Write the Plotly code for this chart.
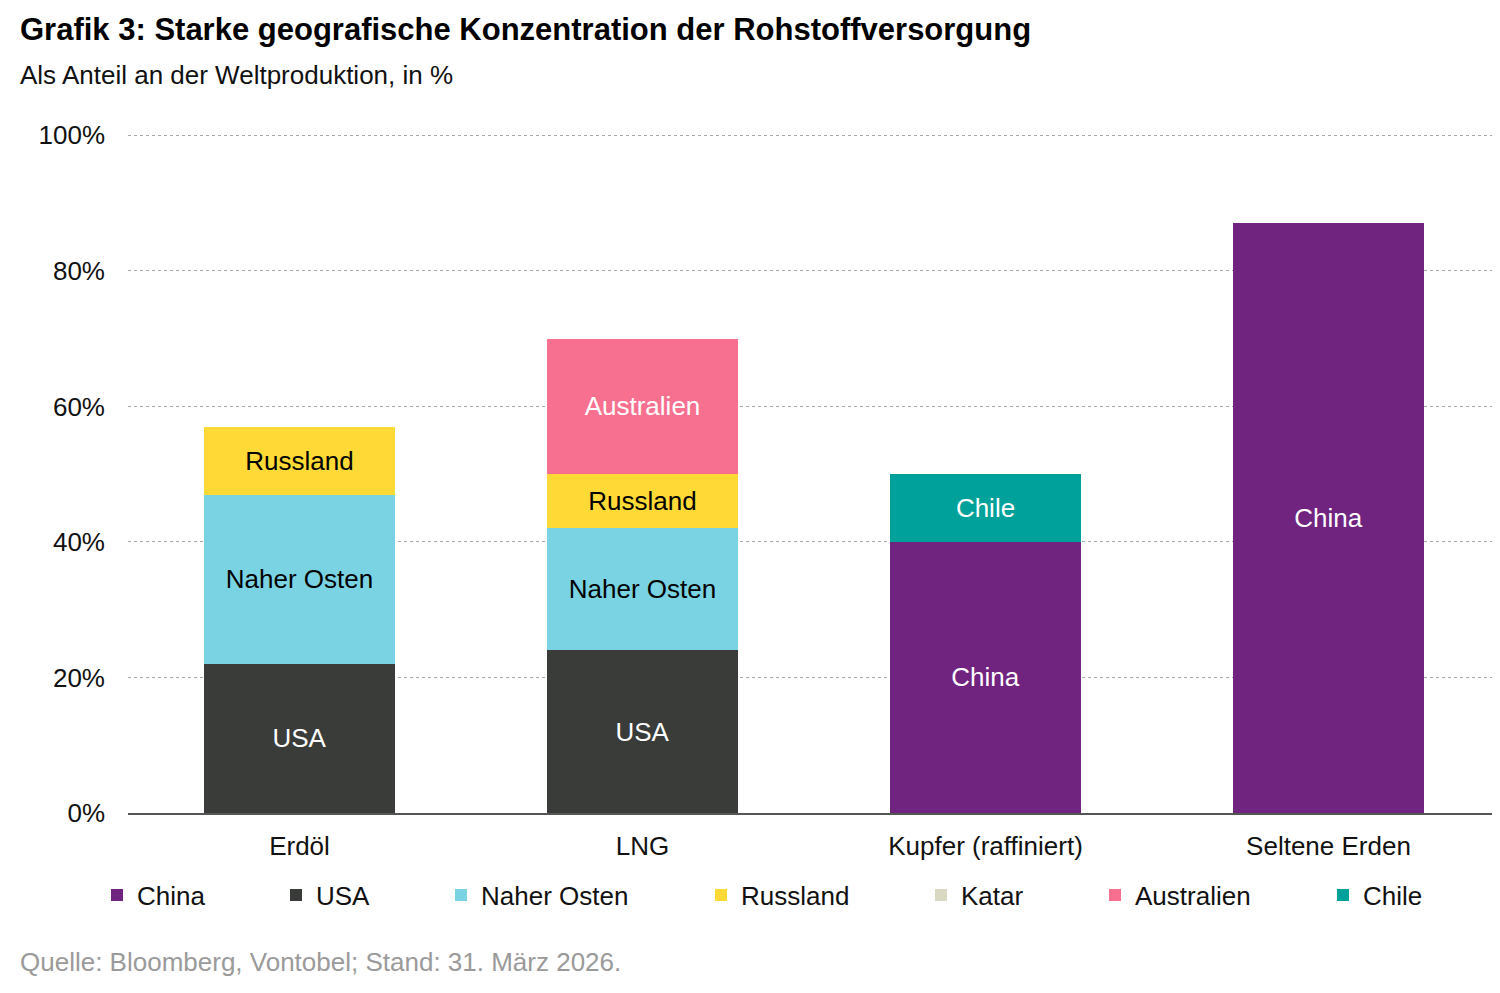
import plotly.graph_objects as go

# Rohstoffe und Anteile an der Weltproduktion (in %)
categories = ["Erdöl", "LNG", "Kupfer (raffiniert)", "Seltene Erden"]
countries = ["China", "USA", "Naher Osten", "Russland", "Katar", "Australien", "Chile"]
china = [None, None, 40, 87]
usa = [22, 24, None, None]
naher_osten = [25, 18, None, None]
russland = [10, 8, None, None]
katar = [None, None, None, None]
australien = [None, 20, None, None]
chile = [None, None, 10, None]
y_ticks = [0, 20, 40, 60, 80, 100]
y_ticktext = ["0%", "20%", "40%", "60%", "80%", "100%"]

colors = ["#70237f", "#3a3c3a", "#7ad3e3", "#ffda36", "#d9d8c2", "#f7708f", "#00a19a"]
text_colors = ["white", "white", "black", "black", "black", "white", "white"]
series = [china, usa, naher_osten, russland, katar, australien, chile]

# page has an 8px body margin, so screen px = figure px + 8
OFF = 8
legend_marker_px = [113, 292, 457, 717, 937, 1111, 1339]

FONT = "Liberation Sans, Arial, sans-serif"
W, H = 1492, 985
L, R, T, B = 120, 0, 126, 180
pw = W - L - R
ph = H - T - B
bottom = H - B


def px_x(sx):
    return (sx - OFF - L) / pw


def px_y(sy):
    return (bottom - (sy - OFF)) / ph


fig = go.Figure()
for i, (name, vals) in enumerate(zip(countries, series)):
    txt = [name if v else "" for v in vals]
    leg = "legend" if i == 0 else "legend%d" % (i + 1)
    fig.add_trace(go.Bar(
        x=categories, y=vals, name=name,
        marker=dict(color=colors[i], line=dict(width=0)),
        text=txt, textposition="inside", insidetextanchor="middle", textangle=0,
        insidetextfont=dict(color=text_colors[i], size=26, family=FONT),
        legend=leg, showlegend=True, hoverinfo="x+y+name",
    ))

legends = {}
for i, mx in enumerate(legend_marker_px):
    key = "legend" if i == 0 else "legend%d" % (i + 1)
    legends[key] = dict(
        x=px_x(mx - 16), y=px_y(895), xanchor="left", yanchor="middle",
        orientation="h", font=dict(size=26, family=FONT, color="#111"),
        bgcolor="rgba(0,0,0,0)", itemwidth=30, tracegroupgap=0, visible=True,
    )

fig.update_layout(
    width=W, height=H,
    margin=dict(l=L, r=R, t=T, b=B),
    barmode="stack", bargap=0.446,
    plot_bgcolor="white", paper_bgcolor="white",
    font=dict(family=FONT, size=26, color="#111"),
    showlegend=True,
    **legends,
)

fig.update_yaxes(
    range=[0, 100.2], tickvals=y_ticks, ticktext=y_ticktext,
    showgrid=True, gridcolor="#a8a8a8", griddash="dot", gridwidth=1,
    zeroline=False, showline=False, ticks="", ticklabelstandoff=22,
    tickfont=dict(size=26, family=FONT, color="#111"),
)
fig.update_xaxes(
    range=[-0.5, 3.5],
    showline=True, linecolor="#555555", linewidth=2, ticks="",
    tickfont=dict(size=26, family=FONT, color="#111"), ticklabelstandoff=9,
)

fig.add_annotation(
    text="<b>Grafik 3: Starke geografische Konzentration der Rohstoffversorgung</b>",
    xref="paper", yref="paper", x=px_x(18), y=px_y(29),
    xanchor="left", yanchor="middle", showarrow=False,
    font=dict(size=31, family=FONT, color="#000"),
)
fig.add_annotation(
    text="Als Anteil an der Weltproduktion, in %",
    xref="paper", yref="paper", x=px_x(18), y=px_y(75),
    xanchor="left", yanchor="middle", showarrow=False,
    font=dict(size=26, family=FONT, color="#111"),
)
fig.add_annotation(
    text="Quelle: Bloomberg, Vontobel; Stand: 31. März 2026.",
    xref="paper", yref="paper", x=px_x(18), y=px_y(962),
    xanchor="left", yanchor="middle", showarrow=False,
    font=dict(size=26, family=FONT, color="#9a9a9a"),
)

fig.write_html("out.html")
